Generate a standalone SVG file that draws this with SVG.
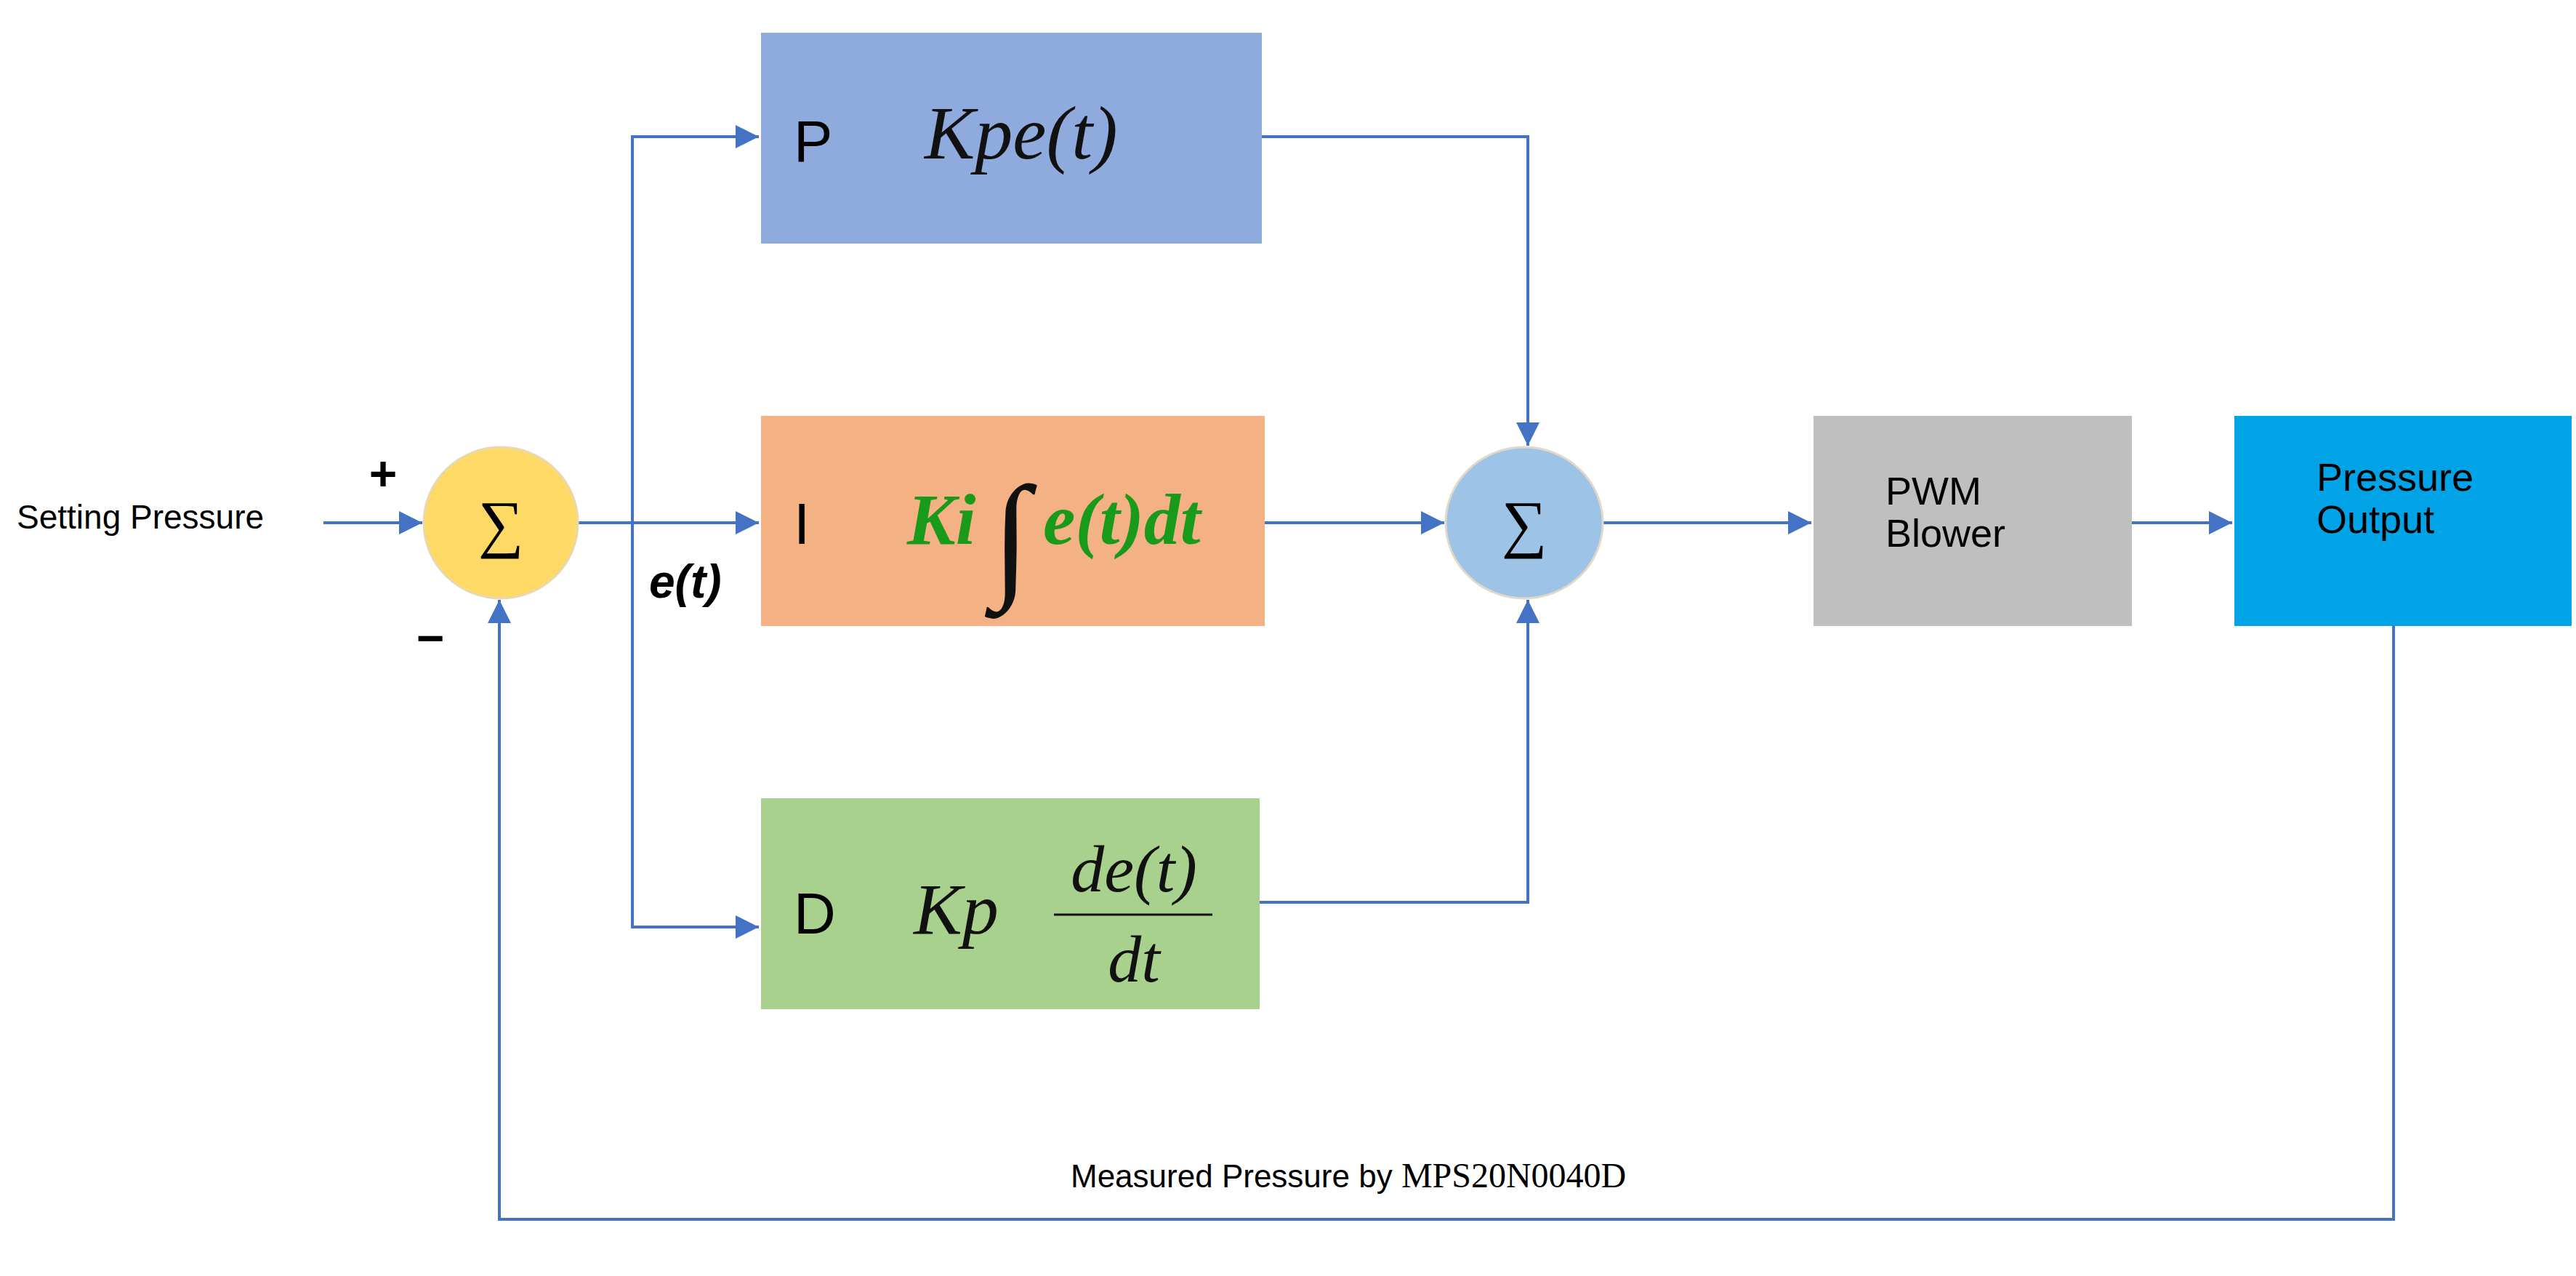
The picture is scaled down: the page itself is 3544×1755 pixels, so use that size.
<svg xmlns="http://www.w3.org/2000/svg" width="3544" height="1755" viewBox="0 0 3544 1755">
<style>
.s{font-family:"Liberation Sans",Arial,sans-serif;fill:#000}
.m{font-family:"Liberation Serif","DejaVu Serif",serif;font-style:italic;fill:#111}
.g{font-family:"Liberation Serif","DejaVu Serif",serif;font-style:italic;font-weight:bold;fill:#1a9a1a}
.c{fill:none;stroke:#4472C4;stroke-width:4}
</style>
<defs>
<marker id="b" viewBox="0 0 30 30" refX="30" refY="15" markerWidth="32" markerHeight="32" markerUnits="userSpaceOnUse" orient="auto"><path d="M0,0L30,15L0,30z" fill="#4472C4"/></marker></defs>
<rect width="3544" height="1755" fill="#fff"/>
<g id="connectors">
<path class="c" d="M445,719H581" marker-end="url(#b)"/>
<path class="c" d="M796,719H1044" marker-end="url(#b)"/>
<path class="c" d="M870,719V188H1044" marker-end="url(#b)"/>
<path class="c" d="M870,719V1275H1044" marker-end="url(#b)"/>
<path class="c" d="M1736,188H2102V613" marker-end="url(#b)"/>
<path class="c" d="M1740,719H1987" marker-end="url(#b)"/>
<path class="c" d="M1733,1241H2102V825" marker-end="url(#b)"/>
<path class="c" d="M2206,719H2492" marker-end="url(#b)"/>
<path class="c" d="M2933,719H3071" marker-end="url(#b)"/>
<path class="c" d="M3293,861V1677H687V825" marker-end="url(#b)"/>
</g>
<g id="sum1"><ellipse cx="689" cy="719" rx="106" ry="104" fill="#FFD966" stroke="#e8d8b0" stroke-width="3"/><text x="689" y="750" font-family="Liberation Serif,serif" font-size="88" text-anchor="middle">∑</text></g>
<g id="sum2"><ellipse cx="2097" cy="719" rx="108" ry="104" fill="#9DC3E6" stroke="#e0d8c8" stroke-width="3"/><text x="2097" y="750" font-family="Liberation Serif,serif" font-size="88" text-anchor="middle">∑</text></g>
<g id="labels">
<text class="s" x="23" y="727" font-size="46">Setting Pressure</text>
<text class="s" x="527" y="674" font-size="66" font-weight="bold" text-anchor="middle">+</text>
<text class="s" x="592" y="900" font-size="66" font-weight="bold" text-anchor="middle">−</text>
<text class="s" x="893" y="822" font-size="64" font-weight="bold" font-style="italic">e(t)</text>
<text class="s" x="1473" y="1633" font-size="44">Measured Pressure by <tspan font-family="Liberation Serif,serif" font-size="48">MPS20N0040D</tspan></text>
</g>
<g id="P"><rect x="1047" y="45" width="689" height="290" fill="#8FAADC"/><text class="s" x="1092" y="222" font-size="80">P</text><text class="m" x="1272" y="218" font-size="104">Kpe(t)</text></g>
<g id="I"><rect x="1047" y="572" width="693" height="289" fill="#F4B183"/><text class="s" x="1092" y="748" font-size="80">I</text><text class="g" x="1248" y="748" font-size="100">Ki</text><text class="m" x="1365" y="800" font-size="190" font-style="normal" fill="#0a5a0a">∫</text><text class="g" x="1435" y="748" font-size="100">e(t)dt</text></g>
<g id="D"><rect x="1047" y="1098" width="686" height="290" fill="#A9D18E"/><text class="s" x="1092" y="1284" font-size="80">D</text><text class="m" x="1257" y="1284" font-size="100">Kp</text><text class="m" x="1560" y="1226" font-size="92" text-anchor="middle">de(t)</text><line x1="1450" y1="1258" x2="1668" y2="1258" stroke="#111" stroke-width="3"/><text class="m" x="1560" y="1350" font-size="92" text-anchor="middle">dt</text></g>
<g id="PWM"><rect x="2495" y="572" width="438" height="289" fill="#BFBFBF"/><text class="s" x="2594" y="694" font-size="54">PWM</text><text class="s" x="2594" y="752" font-size="54">Blower</text></g>
<g id="Out"><rect x="3074" y="572" width="464" height="289" fill="#00A3E5"/><text class="s" x="3187" y="675" font-size="54">Pressure</text><text class="s" x="3187" y="733" font-size="54">Output</text></g>
</svg>
